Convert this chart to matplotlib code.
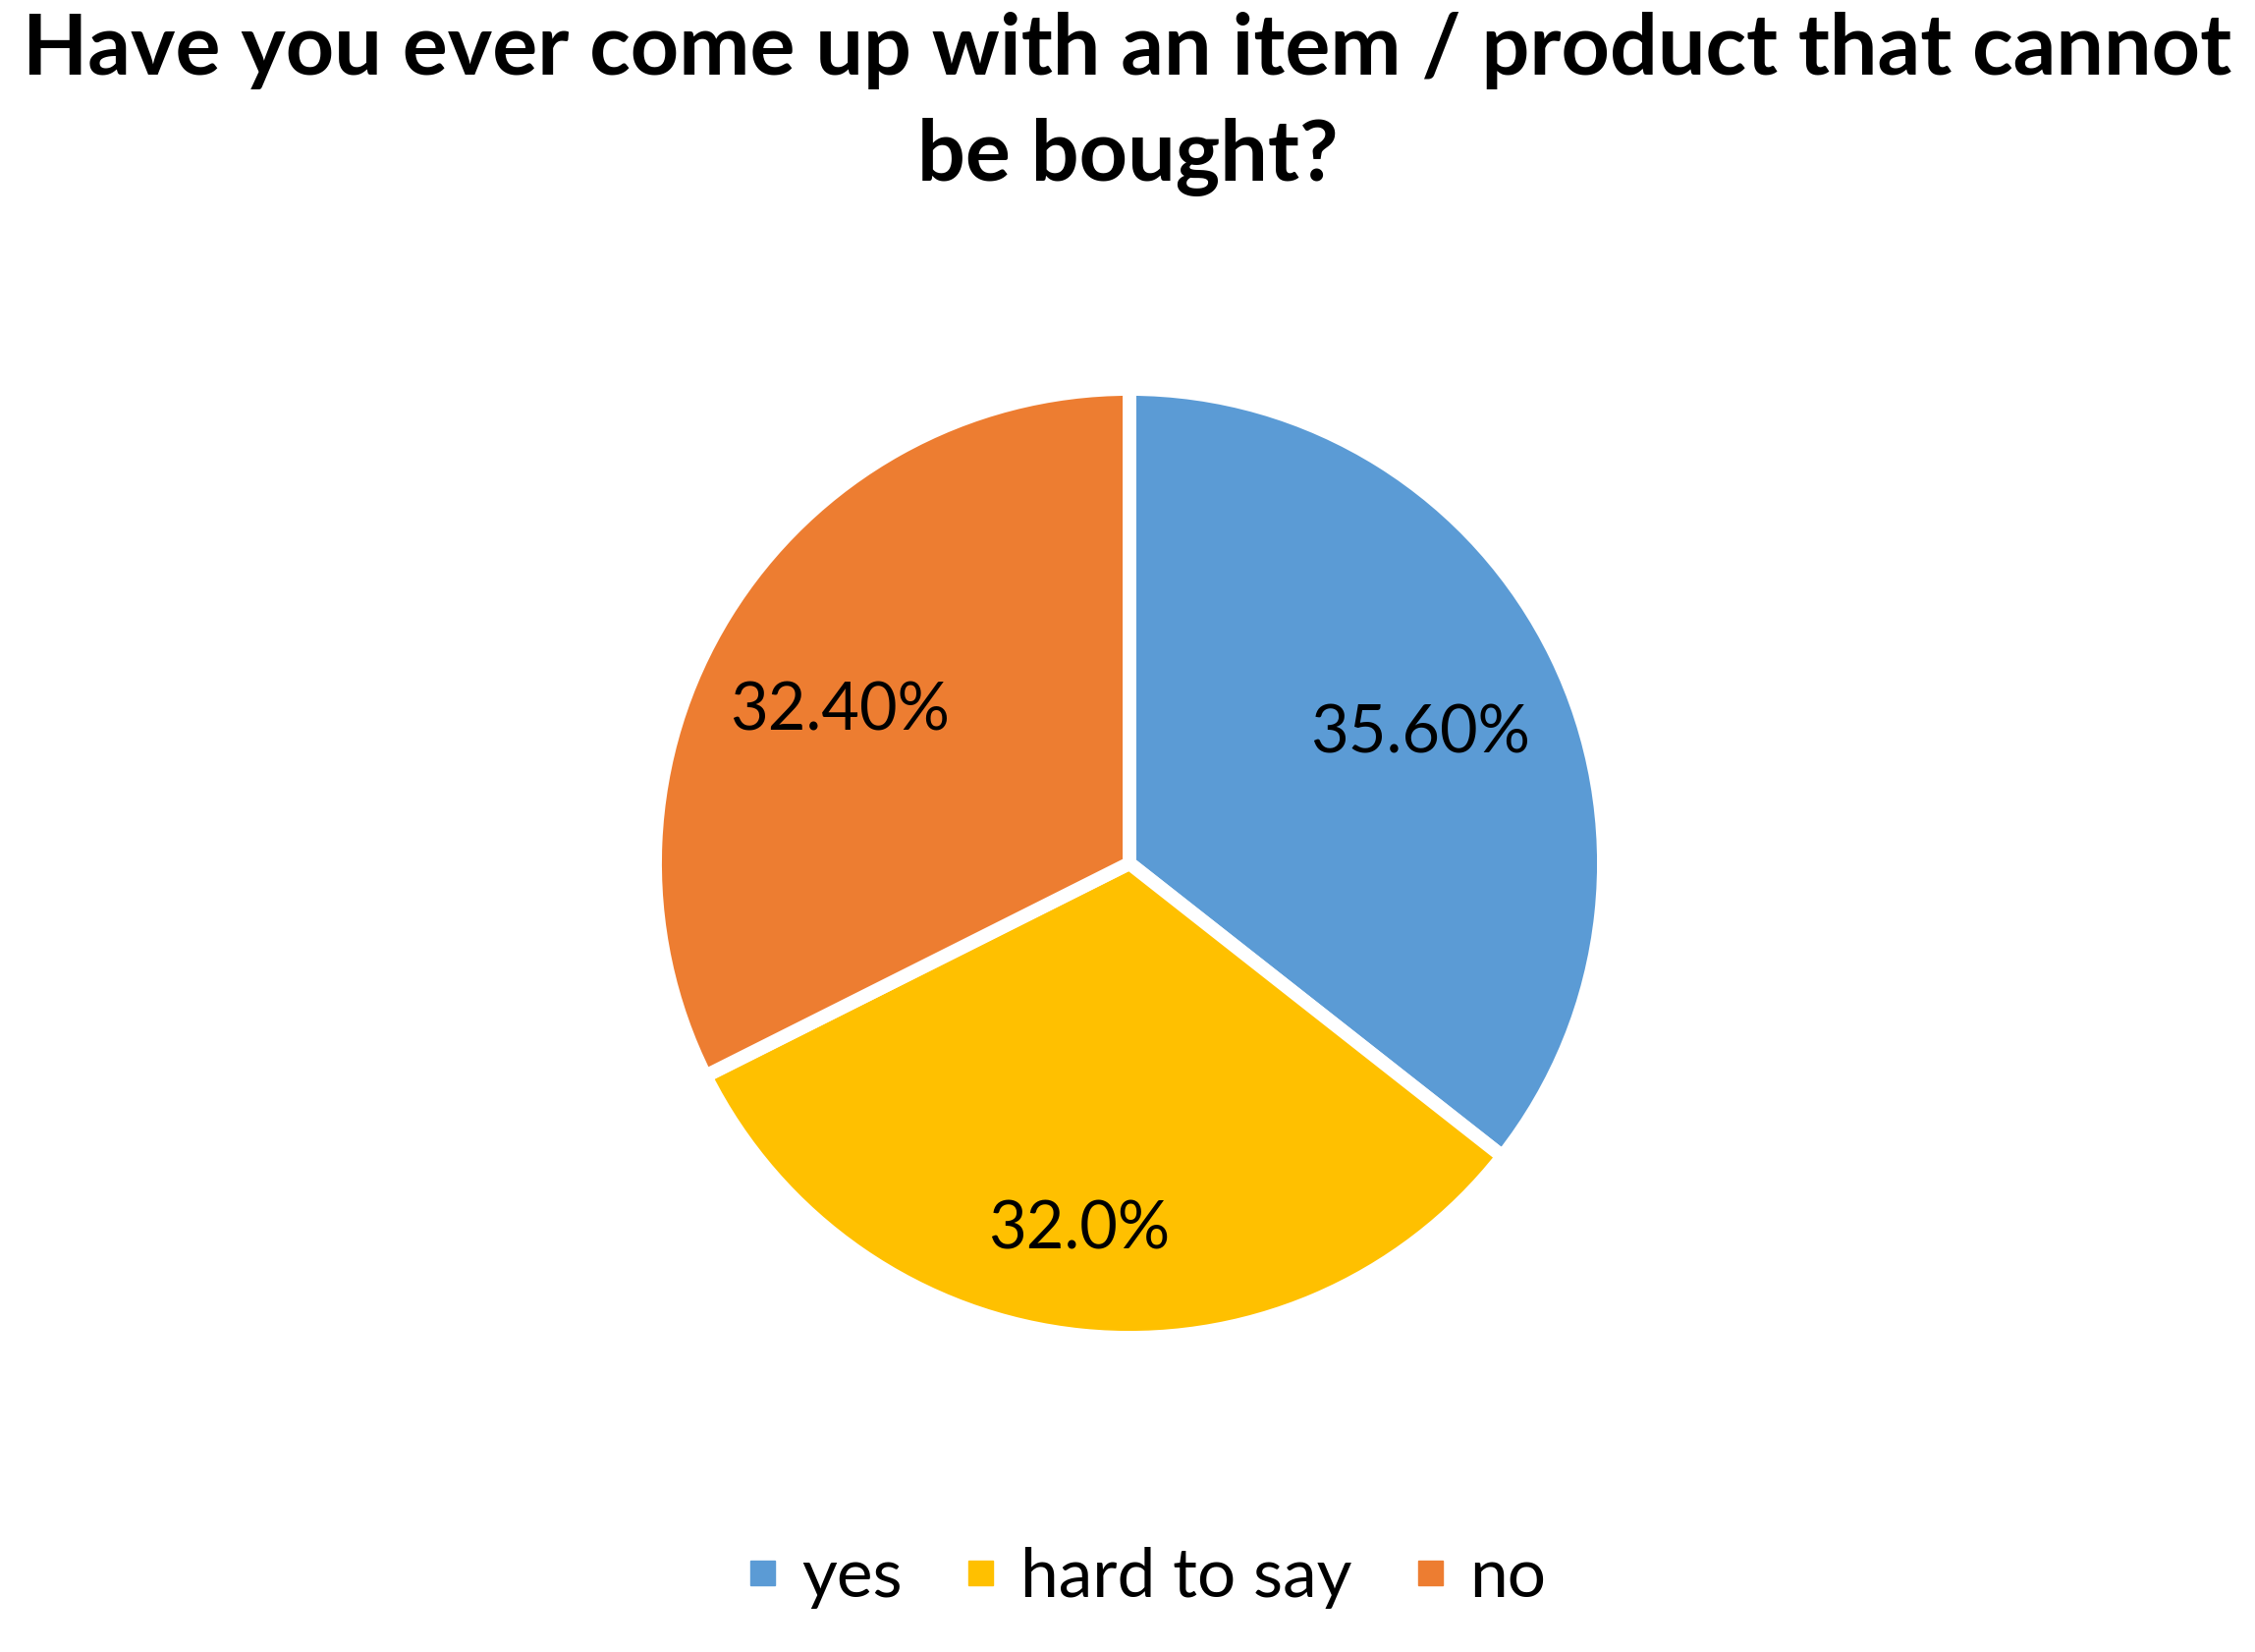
import numpy as np
import matplotlib.pyplot as plt

# valores
categorias = ["yes", "hard to say", "no"]
valores = [35.6, 32.0, 32.4]
etiquetas = ["35.60%", "32.0%", "32.40%"]
colores = ["#5B9BD5", "#FFC000", "#ED7D31"]
titulo = "Have you ever come up with an item / product that cannot\nbe bought?"

plt.rcParams['font.family'] = ['Lato', 'DejaVu Sans']

fig = plt.figure(figsize=(22.96, 16.82), dpi=100)
W, H = 2296, 1682

# eje del pastel (centro y radio en píxeles)
cx, cy, r = 1150, 879, 483
ax = fig.add_axes([(cx - r) / W, (H - cy - r) / H, 2 * r / W, 2 * r / H])

wedges, _ = ax.pie(valores, colors=colores, startangle=90, counterclock=False,
                   radius=1.0, wedgeprops=dict(edgecolor="white", linewidth=10))
ax.set_xlim(-1, 1)
ax.set_ylim(-1, 1)
ax.set_aspect("equal")

# etiquetas dentro de cada porción
distancias = [0.67, 0.78, 0.69]
desvio = [-2, -2, 4]
for w, txt, d, dv in zip(wedges, etiquetas, distancias, desvio):
    ang = np.deg2rad((w.theta1 + w.theta2) / 2 + dv)
    ax.text(d * np.cos(ang), d * np.sin(ang), txt, ha="center", va="center",
            fontsize=48, color="black")

fig.text(0.5, 1 - 106 / H, titulo, ha="center", va="center", fontsize=62,
         fontweight="bold", linespacing=1.46)

handles = [plt.Line2D([], [], marker="s", linestyle="", markersize=18,
                      markerfacecolor=c, markeredgecolor=c) for c in colores]
fig.legend(handles, categorias, loc="center", bbox_to_anchor=(0.508, 1 - 1606 / H),
           ncol=3, frameon=False, fontsize=50, handletextpad=0.33,
           columnspacing=0.9, handlelength=0.5)

fig.savefig("out.png", dpi=100, facecolor="white")
